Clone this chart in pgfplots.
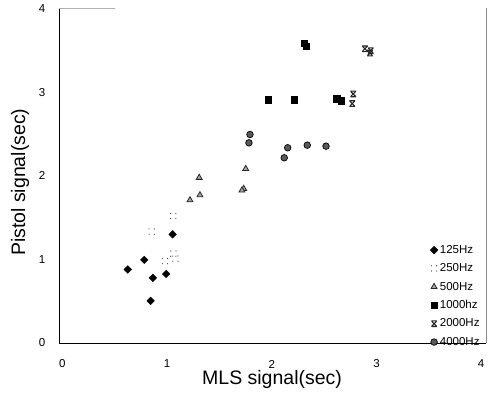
\documentclass[border=0pt]{standalone}
\usepackage{pgfplots}
\pgfplotsset{compat=1.18}
\usepackage{fontspec}
\setmainfont{Liberation Sans}

\pgfdeclareplotmark{dotsq}{%
  \pgfpathcircle{\pgfqpoint{-\pgfplotmarksize}{-\pgfplotmarksize}}{0.6pt}%
  \pgfpathcircle{\pgfqpoint{\pgfplotmarksize}{-\pgfplotmarksize}}{0.6pt}%
  \pgfpathcircle{\pgfqpoint{-\pgfplotmarksize}{\pgfplotmarksize}}{0.6pt}%
  \pgfpathcircle{\pgfqpoint{\pgfplotmarksize}{\pgfplotmarksize}}{0.6pt}%
  \pgfusepathqfill}
\pgfdeclareplotmark{xbar}{%
  \pgfpathmoveto{\pgfqpoint{-\pgfplotmarksize}{\pgfplotmarksize}}%
  \pgfpathlineto{\pgfqpoint{\pgfplotmarksize}{\pgfplotmarksize}}%
  \pgfpathmoveto{\pgfqpoint{-\pgfplotmarksize}{-\pgfplotmarksize}}%
  \pgfpathlineto{\pgfqpoint{\pgfplotmarksize}{-\pgfplotmarksize}}%
  \pgfpathmoveto{\pgfqpoint{-0.8\pgfplotmarksize}{0.8\pgfplotmarksize}}%
  \pgfpathlineto{\pgfqpoint{0.8\pgfplotmarksize}{-0.8\pgfplotmarksize}}%
  \pgfpathmoveto{\pgfqpoint{-0.8\pgfplotmarksize}{-0.8\pgfplotmarksize}}%
  \pgfpathlineto{\pgfqpoint{0.8\pgfplotmarksize}{0.8\pgfplotmarksize}}%
  \pgfusepathqstroke}

\begin{document}
\begin{tikzpicture}
\path[use as bounding box] (-59pt,-50pt) rectangle (432pt,343pt);
\begin{axis}[
  scale only axis,
  width=427pt, height=335pt,
  xmin=-0.032, xmax=4.046,
  ymin=0, ymax=4.01,
  xtick={0,1,2,3,4}, ytick={0,1,2,3,4},
  major tick length=0pt,
  axis line style={draw=none},
  /pgf/number format/assume math mode=true,
  tick label style={font=\fontsize{11.5}{13}\selectfont},
  xticklabel style={anchor=center, yshift=-21pt},
  yticklabel style={anchor=center, xshift=-17pt},
  xlabel={MLS signal(sec)},
  ylabel={Pistol signal(sec)},
  label style={font=\fontsize{19.5}{22}\selectfont},
  xlabel style={at={(axis description cs:0.499,-0.110)}, anchor=center},
  ylabel style={at={(axis description cs:-0.0913,0.48)}, anchor=center},
  legend style={draw=none, fill=none, font=\fontsize{11.5}{13}\selectfont,
    at={(axis description cs:0.99,-0.018)}, anchor=south east,
    row sep=4.8pt, inner sep=0pt, cells={anchor=west}},
  legend image code/.code={\draw[mark repeat=2,mark phase=2,#1] plot coordinates {(0cm,0cm) (0.12cm,0cm) (0.24cm,0cm)};},
  clip=false,
]
\draw[black, line width=0.9pt] (rel axis cs:0,1) -- (rel axis cs:0,0) -- (rel axis cs:1,0);
\draw[black!30, line width=0.9pt] (rel axis cs:0,1) -- (rel axis cs:0.13,1);
\draw[black!45, line width=0.9pt] (rel axis cs:1,0) -- (rel axis cs:1,1);

% 125Hz
\addplot[only marks, mark=square*, mark size=2.7pt, mark options={rotate=45}, black] coordinates {
 (0.624,0.880) (0.782,0.995) (1.053,1.301) (0.865,0.780) (0.992,0.827) (0.843,0.505)};
\addlegendentry{125Hz}
% 250Hz
\addplot[only marks, mark=dotsq, mark size=2.6pt, black!80] coordinates {
 (0.853,1.334) (1.059,1.520) (0.98,0.98) (1.06,1.07) (1.08,1.01)};
\addlegendentry{250Hz}
% 500Hz
\addplot[only marks, mark=triangle*, mark size=3.4pt, mark options={draw=black!85, fill=black!35, line width=0.8pt}] coordinates {
 (1.307,1.979) (1.314,1.771) (1.219,1.711) (1.751,2.086) (1.732,1.847) (1.715,1.827)};
\addlegendentry{500Hz}
% 1000Hz
\addplot[only marks, mark=square*, mark size=3.2pt, black] coordinates {
 (2.310,3.590) (2.327,3.550) (1.967,2.913) (2.215,2.913) (2.620,2.922) (2.661,2.901)};
\addlegendentry{1000hz}
% 2000Hz
\addplot[only marks, mark=xbar, mark size=2.8pt, mark options={line width=1.1pt}, black!85] coordinates {
 (2.890,3.522) (2.945,3.499) (2.938,3.471) (2.778,2.981) (2.769,2.866)};
\addlegendentry{2000Hz}
% 4000Hz
\addplot[only marks, mark=*, mark size=3.3pt, mark options={draw=black, fill=black!65, line width=0.7pt}] coordinates {
 (1.792,2.496) (1.782,2.396) (2.152,2.337) (2.119,2.217) (2.339,2.368) (2.518,2.356)};
\addlegendentry{4000Hz}
\end{axis}
\end{tikzpicture}
\end{document}
